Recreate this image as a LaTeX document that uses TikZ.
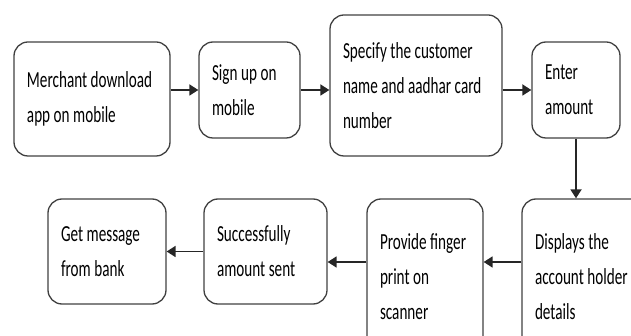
\documentclass[tikz,border=0pt]{standalone}
\usepackage{fontspec}
\newfontfamily\stepfont[FakeStretch=0.66]{Carlito}
% narrow word spaces to go with the squeezed glyphs
\newcommand{\boxtext}{\stepfont\fontsize{23}{35}\selectfont\fontdimen2\font=3.5pt\fontdimen3\font=0pt}
\usetikzlibrary{
    arrows.meta,
    positioning,
    calc
}

\begin{document}
\begin{tikzpicture}[
        x=1pt, y=-1pt,
        box/.style={rectangle, draw=black!75, line width=1.3pt, rounded corners=14pt, inner xsep=13pt, inner ysep=0pt, align=flush left, font=\boxtext},
        arrow/.style={-{Triangle[length=9pt, width=11pt]}, line width=1.8pt, draw=black!85}
    ]
        \useasboundingbox (0,0) rectangle (631,336);
        \clip (0,0) rectangle (631,336);

        % top row, left to right
        \node[box, text width=130pt, minimum height=114pt] (download) at (92,99) {Merchant download\\app on mobile};
        \node[box, text width=75pt, minimum height=96pt] (signup) at (249.5,90) {Sign up on\\mobile};
        \node[box, text width=146pt, minimum height=141pt] (aadhar) at (416,85.5) {Specify the customer\\name and aadhar card\\number};
        \node[box, text width=62pt, minimum height=96pt] (amount) at (576,90) {Enter\\amount};

        % bottom row, right to left
        \node[box, text width=100pt, minimum height=156pt] (details) at (585,277) {Displays the\\account holder\\details};
        \node[box, text width=90pt, minimum height=156pt] (finger) at (425,277) {Provide finger\\print on\\scanner};
        \node[box, text width=97pt, minimum height=105pt] (sent) at (265.5,251.5) {Successfully\\amount sent};
        \node[box, text width=92pt, minimum height=105pt] (message) at (107,251.5) {Get message\\from bank};

        \draw[arrow] (download.east |- signup.west) -- (signup.west);
        \draw[arrow] (signup.east) -- (signup.east -| aadhar.west);
        \draw[arrow] (amount.west -| aadhar.east) -- (amount.west);
        \draw[arrow] (amount.south) -- (amount.south |- details.north);
        \draw[arrow] ([yshift=15pt]details.west) -- ([yshift=15pt]details.west -| finger.east);
        \draw[arrow] ([yshift=15pt]finger.west) -- ([yshift=15pt]finger.west -| sent.east);
        \draw[arrow] (sent.west) -- (message.east);
    \end{tikzpicture}
\end{document}
